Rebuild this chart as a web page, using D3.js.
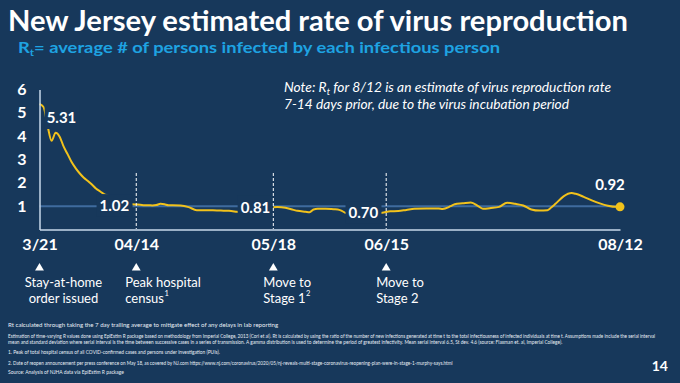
<!DOCTYPE html>
<html><head><meta charset="utf-8">
<script src="https://cdn.jsdelivr.net/npm/d3@7"></script>
<style>
html,body{margin:0;padding:0;background:#17385b;}
svg{display:block;}
text{font-family:Lato,"Open Sans",sans-serif;}
</style></head>
<body>
<script>
// ---------- DATA ----------
const dates = ["2020-03-21","2020-03-22","2020-03-23","2020-03-24","2020-03-25","2020-03-26","2020-03-27","2020-03-28","2020-03-29","2020-03-30","2020-03-31",
"2020-04-01","2020-04-02","2020-04-03","2020-04-04","2020-04-05","2020-04-06","2020-04-07","2020-04-08","2020-04-09","2020-04-10","2020-04-11","2020-04-12","2020-04-13","2020-04-14",
"2020-04-15","2020-04-16","2020-04-17","2020-04-18","2020-04-19","2020-04-20","2020-04-21","2020-04-22","2020-04-23","2020-04-25","2020-04-27","2020-04-29",
"2020-05-01","2020-05-03","2020-05-05","2020-05-07","2020-05-09","2020-05-10","2020-05-12","2020-05-14","2020-05-16","2020-05-18","2020-05-19","2020-05-21","2020-05-23","2020-05-24","2020-05-26","2020-05-27","2020-05-28","2020-05-29","2020-05-31",
"2020-06-02","2020-06-03","2020-06-04","2020-06-05","2020-06-09","2020-06-13","2020-06-14","2020-06-16","2020-06-18","2020-06-20","2020-06-22","2020-06-25","2020-06-28","2020-06-29",
"2020-07-01","2020-07-02","2020-07-04","2020-07-06","2020-07-08","2020-07-09","2020-07-11","2020-07-13","2020-07-15","2020-07-17","2020-07-19","2020-07-21","2020-07-23","2020-07-25","2020-07-26","2020-07-27","2020-07-29","2020-07-31",
"2020-08-01","2020-08-03","2020-08-05","2020-08-07","2020-08-09","2020-08-11","2020-08-12"];
const rtValues = [5.38,5.25,4.45,3.80,4.15,3.98,3.55,3.22,2.88,2.62,2.40,
2.22,2.08,1.93,1.76,1.64,1.52,1.45,1.36,1.28,1.22,1.16,1.12,1.08,1.07,
1.06,1.04,1.04,1.03,1.05,1.10,1.08,1.04,1.04,1.03,0.96,0.83,
0.83,0.82,0.81,0.80,0.76,0.74,0.78,0.82,0.90,0.95,0.96,0.93,0.84,0.80,0.76,0.74,0.86,0.89,0.89,
0.87,0.86,0.80,0.71,0.70,0.71,0.72,0.78,0.79,0.84,0.89,0.90,0.90,0.88,
1.00,1.08,1.12,1.16,0.98,0.89,0.92,0.97,1.15,1.10,1.03,0.86,0.81,0.83,0.95,1.10,1.42,1.56,
1.53,1.40,1.25,1.12,1.02,0.97,0.97];
const refValue = 1;
const yTicks = [1,2,3,4,5,6];
const xTickDates = ["2020-03-21","2020-04-14","2020-05-18","2020-06-15","2020-08-12"];
const xTickLabels = ["3/21","04/14","05/18","06/15","08/12"];
const eventDates = ["2020-03-21","2020-04-14","2020-05-18","2020-06-15"];
const eventLabels = [["Stay-at-home","order issued"],["Peak hospital","census","1"],["Move to","Stage 1","2"],["Move to","Stage 2"]];
const calloutDates = ["2020-03-21","2020-04-14","2020-05-18","2020-06-15","2020-08-12"];
const calloutTexts = ["5.31","1.02","0.81","0.70","0.92"];
const footnotes = [
 "Rt calculated through taking the 7 day trailing average to mitigate effect of any delays in lab reporting",
 "Estimation of time-varying R values done using EpiEstim R package based on methodology from Imperial College, 2013 (Cori et al).    Rt is calculated by using the ratio of the number of new infections generated at time t to the total infectiousness of infected individuals at time t.  Assumptions made include the serial interval",
 "mean and standard deviation where serial interval is the time between successive cases in a series of transmission.  A gamma distribution is used to determine the period of greatest infectivity.  Mean serial interval 6.5, St dev. 4.6 (source: Flaxman et. al, Imperial College).",
 "1. Peak of total hospital census of all COVID-confirmed cases and persons under investigation (PUIs).",
 "2. Date of reopen announcement per press conference on May 18, as covered by NJ.com https://www.nj.com/coronavirus/2020/05/nj-reveals-multi-stage-coronavirus-reopening-plan-were-in-stage-1-murphy-says.html",
 "Source: Analysis of NJHA data via EpiEstim R package"
];

// ---------- LAYOUT ----------
const W = 680, H = 383;
const BG = "#17385b", GOLD = "#f2c21b", REF = "#3f6b9e", AXIS = "#c9d9ea";
const parse = d3.timeParse("%Y-%m-%d");
const series = dates.map((d,i)=>({date:parse(d), v:rtValues[i]}));

const svg = d3.select("body").append("svg").attr("width",W).attr("height",H);
svg.append("rect").attr("width",W).attr("height",H).attr("fill",BG);

const x = d3.scaleTime().domain([parse(xTickDates[0]), parse(xTickDates[xTickDates.length-1])]).range([39.5,620]);
const y = d3.scaleLinear().domain([0,6]).range([229.5,89.5]);

function squeeze(sel, w){ sel.attr("textLength", w).attr("lengthAdjust","spacingAndGlyphs"); }
function fitFont(sel, w){
  const fs = +sel.attr("font-size");
  const nat = sel.node().getComputedTextLength();
  sel.attr("font-size", (fs * w / nat).toFixed(2));
}

// Title
const title = svg.append("text").attr("x",8).attr("y",31).attr("fill","#fff")
  .attr("font-size",28).attr("font-weight",700).text("New Jersey estimated rate of virus reproduction");
squeeze(title, 620);
const sub = svg.append("text").attr("x",18).attr("y",53).attr("fill","#1ea3e2")
  .attr("font-size",16).attr("font-weight",700);
sub.append("tspan").text("R");
sub.append("tspan").attr("font-size",10).attr("dy",3).text("t");
sub.append("tspan").attr("dy",-3).text("= average # of persons infected by each infectious person");
squeeze(sub, 482);

// Note
const n1 = svg.append("text").attr("x",284).attr("y",92).attr("fill","#fff")
  .attr("font-size",13.5).attr("font-style","italic");
n1.append("tspan").text("Note: R");
n1.append("tspan").attr("font-size",9).attr("dy",3).text("t");
n1.append("tspan").attr("dy",-3).text(" for 8/12 is an estimate of virus reproduction rate");
squeeze(n1, 327);
const n2 = svg.append("text").attr("x",284).attr("y",109).attr("fill","#fff")
  .attr("font-size",13.5).attr("font-style","italic").text("7-14 days prior, due to the virus incubation period");
squeeze(n2, 285);

// Reference line at 1
svg.append("line").attr("x1",x.range()[0]).attr("x2",x.range()[1])
  .attr("y1",y(refValue)).attr("y2",y(refValue)).attr("stroke",REF).attr("stroke-width",2);

// Rt line
svg.append("path").datum(series).attr("fill","none").attr("stroke",GOLD).attr("stroke-width",2)
  .attr("stroke-linejoin","round")
  .attr("d", d3.line().x(d=>x(d.date)).y(d=>y(d.v)).curve(d3.curveMonotoneX));

// End dot
const last = series[series.length-1];
svg.append("circle").attr("cx",x(last.date)).attr("cy",y(last.v)).attr("r",4.5).attr("fill",GOLD);

// Callout labels with background boxes
const calloutOffsets = [[22,"middle"],[-7,"end"],[-3,"end"],[-8,"end"],[-10,"middle"]];
const boxPad = [[2,3,3,3],[3,3,2,2],[3,3,2,2],[3,3,2,2]];
const gC = svg.append("g");
calloutTexts.forEach((t,i)=>{
  const o = calloutOffsets[i];
  const px = x(parse(calloutDates[i])) + o[0];
  let cy;
  if(i===0) cy = y(5.31) + 12;
  else if(i===4) cy = y(0.92) - 23;
  else cy = y(+t) + (i===1?0:(i===2?-3.5:-0.5));
  const g = gC.append("g");
  const tx = g.append("text").attr("x",px).attr("y",cy).attr("dy","0.36em")
    .attr("text-anchor",o[1]).attr("fill","#fff").attr("font-size",15).attr("font-weight",700).text(t);
  const bb = tx.node().getBBox();
  if(i<4){
    const p = boxPad[i];
    g.insert("rect","text").attr("x",bb.x-p[0]).attr("y",bb.y-p[2])
      .attr("width",bb.width+p[0]+p[1]).attr("height",bb.height+p[2]+p[3]).attr("fill",BG);
  }
});

// Dashed event lines
eventDates.slice(1).forEach(d=>{
  svg.append("line").attr("x1",x(parse(d))).attr("x2",x(parse(d))).attr("y1",173).attr("y2",229)
    .attr("stroke","#fff").attr("stroke-width",1).attr("stroke-dasharray","3,2");
});

// Axes
const yAxis = svg.append("g").attr("transform",`translate(${x.range()[0]},0)`)
  .call(d3.axisLeft(y).tickValues(yTicks).tickSize(0).tickPadding(13).tickFormat(d3.format("d")));
yAxis.select(".domain").attr("stroke",AXIS).attr("stroke-width",1.5);
yAxis.selectAll("text").attr("fill","#fff").attr("font-size",16).attr("font-weight",700).attr("font-family","Lato");

const xAxis = svg.append("g").attr("transform",`translate(0,${y(0)})`)
  .call(d3.axisBottom(x).tickValues(xTickDates.map(parse)).tickSize(0).tickPadding(9)
    .tickFormat((d,i)=>xTickLabels[i]));
xAxis.select(".domain").attr("stroke",AXIS).attr("stroke-width",1.5);
xAxis.selectAll("text").attr("fill","#fff").attr("font-size",16).attr("font-weight",700).attr("font-family","Lato");

// Event markers and labels
const evOffsets = [[24,"middle"],[-11,"start"],[-10,"start"],[-10,"start"]];
eventDates.forEach((d,i)=>{
  const ex = x(parse(d));
  svg.append("path").attr("transform",`translate(${ex},268)`)
    .attr("d", d3.symbol().type(d3.symbolTriangle).size(34)).attr("fill","#fff");
  const lx = ex + evOffsets[i][0];
  const lab = eventLabels[i];
  svg.append("text").attr("x",lx).attr("y",286.5).attr("text-anchor",evOffsets[i][1])
    .attr("fill","#fff").attr("font-size",13).text(lab[0]);
  const t2 = svg.append("text").attr("x",lx).attr("y",302.5).attr("text-anchor",evOffsets[i][1])
    .attr("fill","#fff").attr("font-size",13).text(lab[1]);
  if(lab[2]){
    const w = t2.node().getComputedTextLength();
    const sx = evOffsets[i][1]==="start" ? lx + w + 0.5 : lx + w/2 + 0.5;
    svg.append("text").attr("x",sx).attr("y",296).attr("fill","#fff").attr("font-size",7.5).text(lab[2]);
  }
});

// Footnotes
const fnY = [327, 338, 344, 354, 364.5, 374];
const fnW = [270, 648, 555, 212, 446, 116];
footnotes.forEach((f,i)=>{
  const t = svg.append("text").attr("x",8).attr("y",fnY[i]).attr("fill","#e8eef5")
    .attr("font-size",5).text(f);
  fitFont(t, fnW[i]);
});

// Page number
svg.append("text").attr("x",668).attr("y",371).attr("text-anchor","end").attr("fill","#fff")
  .attr("font-size",14).attr("font-weight",700).text("14");
</script>
</body></html>
